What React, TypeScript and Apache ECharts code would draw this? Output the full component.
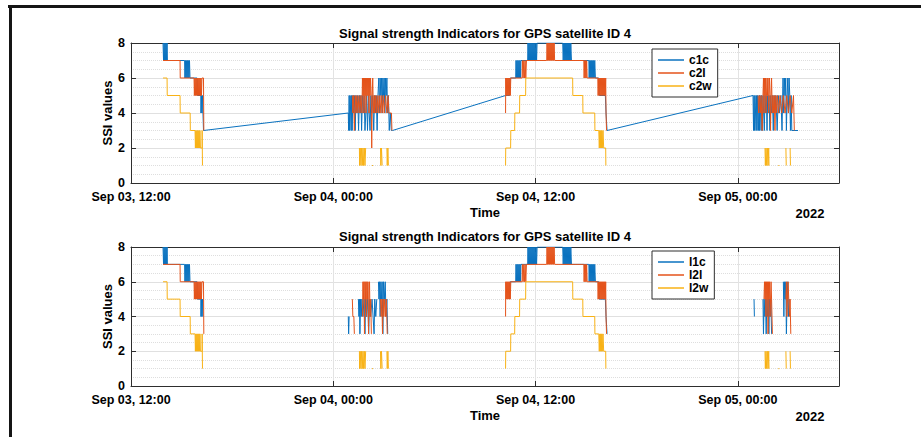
import React, { useEffect, useRef } from 'react';
import * as echarts from 'echarts';

// x values are hours after Sep 03, 12:00 (2022); y values are SSI levels
const TIME_TICKS = ['Sep 03, 12:00', 'Sep 04, 00:00', 'Sep 04, 12:00', 'Sep 05, 00:00'];
const YEAR = '2022';
const TITLE = 'Signal strength Indicators for GPS satellite ID 4';

type Pt = [number, number] | null;

// signal 1 (c1c / l1c), pass 1 and pass 3 look the same in both panels
const S1_P1: Pt[] = [
    [1.90, 8], [1.93, 7], [1.96, 8], [1.99, 7], [2.02, 8], [2.05, 7], [2.08, 8], [2.11, 7], [2.14, 8], [2.16, 7],
    [3.18, 7], [3.20, 6], [3.23, 7], [3.26, 6], [3.29, 7], [3.32, 6], [3.35, 7], [3.38, 6], [3.41, 7], [3.44, 6], [3.47, 7], [3.50, 6],
    [3.92, 6], [3.94, 5], [4.14, 5], [4.15, 4], [4.18, 5], [4.21, 4], [4.24, 5], [4.27, 4]
];
const S1_P3: Pt[] = [
    [22.46, 5], [22.49, 6], [22.82, 6], [22.84, 7], [22.87, 6], [22.90, 7], [22.93, 6], [22.96, 7], [22.99, 6], [23.02, 7], [23.05, 6], [23.08, 7], [23.11, 6], [23.13, 7],
    [23.53, 7], [23.55, 8], [23.58, 7], [23.61, 8], [23.64, 7], [23.67, 8], [23.70, 7], [23.73, 8], [23.76, 7], [23.79, 8], [23.82, 7], [23.85, 8], [23.88, 7], [23.91, 8], [23.94, 7], [23.97, 8], [24.00, 7], [24.03, 8], [24.06, 7], [24.09, 8],
    [25.61, 8], [25.64, 7], [25.67, 8], [25.70, 7], [25.73, 8], [25.76, 7], [25.79, 8], [25.82, 7], [25.85, 8], [25.88, 7], [25.91, 8], [25.94, 7], [25.97, 8], [26.00, 7], [26.03, 8], [26.06, 7], [26.09, 8], [26.13, 7],
    [27.16, 7], [27.18, 6], [27.21, 7], [27.24, 6], [27.27, 7], [27.30, 6], [27.33, 7], [27.36, 6], [27.39, 7], [27.42, 6], [27.45, 7], [27.48, 6], [27.51, 7], [27.55, 6],
    [27.75, 6], [27.78, 5], [28.14, 5], [28.18, 4], [28.24, 3], [28.28, 3]
];
const C1C_P2: Pt[] = [
    [12.89, 4], [12.91, 3], [12.94, 5], [12.97, 3], [13.00, 5], [13.03, 4], [13.06, 3], [13.09, 5], [13.12, 3], [13.16, 5], [13.20, 4], [13.25, 5], [13.30, 3], [13.35, 5], [13.40, 4], [13.45, 5], [13.50, 3], [13.55, 5], [13.60, 4], [13.64, 5], [13.68, 3], [13.73, 5], [13.78, 4], [13.83, 5], [13.88, 3], [13.93, 4], [13.98, 5], [14.03, 3], [14.08, 5], [14.13, 4], [14.18, 3], [14.23, 5], [14.28, 4], [14.33, 5], [14.40, 3], [14.45, 5], [14.50, 4], [14.55, 5], [14.60, 3], [14.65, 5],
    [14.70, 6], [14.74, 4], [14.78, 6], [14.82, 5], [14.86, 6], [14.90, 4], [14.94, 6], [14.98, 5], [15.02, 6], [15.06, 4], [15.10, 6], [15.14, 5], [15.18, 6], [15.22, 4], [15.27, 5], [15.32, 3], [15.38, 4], [15.44, 3], [15.51, 3]
];
const C1C_P4: Pt[] = [
    [36.90, 5], [36.93, 3], [36.96, 5], [36.99, 3], [37.02, 5], [37.05, 4], [37.08, 3], [37.11, 5], [37.14, 3], [37.17, 5], [37.20, 4], [37.23, 3], [37.26, 5], [37.29, 3], [37.32, 5], [37.35, 4], [37.38, 3], [37.41, 5], [37.45, 3], [37.49, 5], [37.53, 4], [37.57, 3], [37.61, 5], [37.65, 4], [37.69, 5], [37.73, 3], [37.77, 5], [37.81, 4], [37.85, 5], [37.90, 3], [37.95, 5], [38.00, 4], [38.05, 5], [38.10, 3], [38.15, 5], [38.20, 4], [38.26, 5], [38.33, 3], [38.40, 5], [38.47, 4], [38.55, 5], [38.62, 3],
    [38.68, 6], [38.72, 4], [38.76, 6], [38.80, 5], [38.84, 6], [38.88, 3], [38.92, 5], [38.96, 6], [39.00, 4], [39.04, 6], [39.08, 5], [39.12, 3], [39.16, 5], [39.20, 3], [39.57, 3]
];
const L1C_P2: Pt[] = [
    [12.89, 4], [12.91, 3], [12.94, 4], null,
    [13.49, 5], [13.52, 4], [13.55, 5], [13.58, 3], [13.62, 5], [13.66, 4], [13.70, 5], [13.76, 4], [13.82, 5], [13.88, 3], [13.92, 5], [13.98, 4], [14.04, 5], [14.10, 3], [14.15, 5], [14.22, 4], [14.30, 5], [14.36, 4], [14.42, 3], [14.46, 5], [14.52, 4], [14.58, 5], null,
    [14.68, 6], [14.71, 5], [14.74, 6], [14.78, 4], [14.82, 6], [14.86, 5], [14.90, 6], [14.94, 3], [14.98, 6], [15.03, 5], [15.08, 6], [15.13, 4], [15.18, 5], [15.23, 3]
];
const L1C_P4: Pt[] = [
    [36.96, 5], [36.98, 4], null,
    [37.49, 5], [37.52, 3], [37.56, 5], [37.60, 4], [37.64, 5], [37.68, 3], [37.72, 5], [37.76, 4], [37.80, 5], [37.84, 3], [37.88, 5], [37.92, 4], [37.96, 5], [38.00, 3], null,
    [38.70, 6], [38.73, 4], [38.76, 6], [38.80, 5], [38.84, 6], [38.88, 3], [38.92, 5], [38.96, 6], [39.00, 4], [39.05, 5]
];

// signal 2 (c2l / l2l)
const S2_P1: Pt[] = [
    [1.90, 7], [2.91, 7], [2.92, 6], [3.74, 6], [3.76, 5], [3.79, 6], [3.82, 5], [3.85, 6], [3.88, 5], [3.91, 6], [3.94, 5], [3.97, 6], [4.00, 5], [4.03, 6], [4.06, 5], [4.09, 6], [4.12, 5], [4.15, 6], [4.18, 5], [4.21, 6], [4.30, 6], [4.32, 3]
];
const S2_P3: Pt[] = [
    [22.22, 4], [22.23, 6], [22.26, 5], [22.29, 6], [22.32, 5], [22.35, 6], [22.38, 5], [22.41, 6], [22.44, 5], [22.47, 6], [22.50, 5], [22.53, 6],
    [23.20, 6], [23.22, 7], [23.26, 6], [23.30, 7], [23.34, 6], [23.38, 7], [23.42, 6], [23.46, 7],
    [24.66, 7], [24.68, 8], [24.71, 7], [24.74, 8], [24.77, 7], [24.80, 8], [24.83, 7], [24.86, 8], [24.89, 7], [24.92, 8], [24.95, 7], [24.98, 8], [25.01, 7], [25.04, 8], [25.07, 7], [25.10, 8], [25.13, 7],
    [26.86, 7], [26.88, 6], [26.91, 7], [26.94, 6], [26.97, 7], [27.00, 6], [27.03, 7], [27.06, 6],
    [27.69, 6], [27.71, 5], [27.74, 6], [27.77, 5], [27.80, 6], [27.83, 5], [27.86, 6], [27.89, 5], [27.92, 6], [27.95, 5], [27.98, 6], [28.01, 5], [28.04, 6], [28.07, 5], [28.10, 6], [28.13, 5], [28.16, 6], [28.18, 4], [28.21, 3]
];
const C2L_P2: Pt[] = [
    [13.13, 5], [13.16, 4], [13.20, 5], [13.25, 3], [13.30, 5], [13.35, 4], [13.40, 5], [13.46, 4], [13.52, 5], [13.58, 4], [13.64, 5], [13.70, 4], [13.73, 6], [13.76, 5], [13.79, 6], [13.82, 4], [13.85, 6], [13.88, 5], [13.91, 6], [13.94, 4], [13.97, 6], [14.00, 5], [14.03, 6], [14.06, 5], [14.09, 6], [14.12, 4], [14.15, 6], [14.18, 5], [14.21, 6], [14.25, 5], [14.28, 2], [14.31, 5], [14.34, 6], [14.38, 4],
    [14.42, 5], [14.46, 4], [14.50, 5], [14.55, 4], [14.60, 5], [14.66, 4], [14.72, 5], [14.78, 4], [14.84, 5], [14.90, 4], [14.96, 5], [15.02, 4], [15.10, 5], [15.18, 4], [15.25, 5], [15.30, 4], [15.45, 4], [15.48, 3]
];
const C2L_P4: Pt[] = [
    [37.20, 5], [37.23, 4], [37.28, 5], [37.33, 4], [37.38, 5], [37.44, 3], [37.49, 5], [37.52, 6], [37.55, 4], [37.58, 6], [37.61, 5], [37.64, 6], [37.67, 4], [37.70, 5], [37.73, 6], [37.76, 5], [37.79, 6], [37.82, 4], [37.85, 5], [37.88, 6], [37.91, 5], [37.94, 3], [37.97, 5], [38.00, 6], [38.04, 4],
    [38.08, 5], [38.12, 4], [38.16, 5], [38.20, 3], [38.25, 5], [38.30, 4], [38.35, 5], [38.42, 4], [38.50, 5], [38.60, 4], [38.70, 5], [38.80, 4], [38.90, 5], [39.00, 4], [39.10, 5], [39.20, 4], [39.30, 5], [39.35, 3]
];
const L2L_P2: Pt[] = [
    [13.13, 5], [13.16, 4], [13.22, 4], [13.25, 3], null,
    [13.73, 4], [13.76, 6], [13.79, 5], [13.82, 6], [13.85, 3], [13.88, 6], [13.91, 5], [13.94, 6], [13.97, 4], [14.00, 6], [14.03, 5], [14.06, 6], [14.09, 3], [14.12, 5], [14.15, 6], [14.18, 4], [14.22, 5], [14.26, 3], null,
    [14.80, 5], [14.84, 4], [14.88, 5], [14.92, 3], [14.96, 5], [15.00, 4], [15.05, 5], [15.10, 4], [15.15, 5], [15.20, 3]
];
const L2L_P4: Pt[] = [
    [37.55, 5], [37.58, 6], [37.61, 5], [37.64, 6], [37.67, 4], [37.70, 6], [37.73, 5], [37.76, 6], [37.79, 3], [37.82, 6], [37.85, 5], [37.88, 6], [37.91, 4], [37.94, 5], [37.97, 6], [38.00, 5], [38.05, 3], null,
    [38.85, 5], [38.88, 6], [38.91, 4], [38.94, 5], [38.98, 6], [39.02, 5], [39.06, 4], [39.10, 5], [39.14, 3]
];

// signal w (c2w / l2w), drawn the same in both panels
const W_P1: Pt[] = [
    [1.90, 6], [2.14, 6], [2.15, 5], [2.91, 5], [2.92, 4], [3.51, 4], [3.52, 3], [3.80, 3], [3.82, 2], [3.85, 3], [3.88, 2], [3.91, 3], [3.94, 2], [3.97, 3], [4.00, 2], [4.03, 3], [4.06, 2], [4.09, 3], [4.12, 2], [4.22, 2], [4.22, 3], [4.24, 1]
];
const W_P2: Pt[] = [
    [13.55, 2], [13.56, 1], [13.60, 2], [13.64, 1], [13.68, 2], [13.72, 1], [13.76, 2], [13.80, 1], [13.84, 2], [13.88, 1], [13.92, 2], null,
    [14.30, 1], [14.36, 1], null,
    [14.80, 2], [14.82, 1], [14.86, 2], [14.90, 1], null,
    [15.18, 2], [15.20, 1], [15.24, 2], [15.27, 1]
];
const W_P3: Pt[] = [
    [22.22, 1], [22.23, 2], [22.52, 2], [22.53, 3], [22.76, 3], [22.77, 4], [23.05, 4], [23.06, 5], [23.41, 5], [23.42, 6],
    [26.20, 6], [26.21, 5], [26.80, 5], [26.81, 4], [27.51, 4], [27.52, 3], [27.75, 3], [27.78, 2], [27.81, 3], [27.84, 2], [27.87, 3], [27.90, 2], [27.93, 3], [27.96, 2], [28.00, 3], [28.04, 2], [28.16, 2], [28.17, 1]
];
const W_P4: Pt[] = [
    [37.61, 2], [37.63, 1], [37.67, 2], [37.71, 1], [37.75, 2], [37.79, 1], [37.83, 2], [37.85, 1], null,
    [38.40, 1], [38.46, 1], null,
    [38.85, 2], [38.87, 1], null,
    [39.10, 2], [39.12, 1]
];

const BLUE = '#0a72bf';
const ORANGE = '#e4531b';
const YELLOW = '#f8b216';
const AXIS = '#2e2e2e';
const FONT = '"Liberation Sans", Arial, sans-serif';

const joined = (...parts: Pt[][]) => parts.flat();
const gapped = (...parts: Pt[][]) => parts.flatMap((p, i) => (i ? [null, ...p] : p));
const toData = (pts: Pt[]) => pts.map(p => (p ? p : ['-', '-']));

const App: React.FC = () => {
    const chartRef = useRef<HTMLDivElement>(null);

    useEffect(() => {
        if (!chartRef.current) return;
        const myChart = echarts.init(chartRef.current, null, { renderer: 'svg' });

        const panels = [
            {
                names: ['c1c', 'c2l', 'c2w'],
                lines: [
                    joined(S1_P1, [[4.30, 3]], C1C_P2, [[22.22, 5]], S1_P3, C1C_P4),
                    gapped(S2_P1, C2L_P2, S2_P3, C2L_P4),
                    gapped(W_P1, W_P2, W_P3, W_P4)
                ],
                top: 43, height: 140, legendTop: 49, titleY: 33
            },
            {
                names: ['l1c', 'l2l', 'l2w'],
                lines: [
                    gapped(S1_P1, L1C_P2, S1_P3, L1C_P4),
                    gapped(S2_P1, L2L_P2, S2_P3, L2L_P4),
                    gapped(W_P1, W_P2, W_P3, W_P4)
                ],
                top: 247, height: 139, legendTop: 251, titleY: 236
            }
        ];
        const colors = [BLUE, ORANGE, YELLOW];

        const boldText = (size: number) => ({ fontFamily: FONT, fontWeight: 'bold' as const, fontSize: size, color: '#000' });

        const xAxis: any[] = [];
        const yAxis: any[] = [];
        panels.forEach((p, g) => {
            xAxis.push({
                type: 'value', gridIndex: g, min: 0, max: 42, interval: 12, position: 'bottom',
                axisLine: { show: true, onZero: false, lineStyle: { color: AXIS } },
                axisTick: { inside: true, length: 5, lineStyle: { color: AXIS } },
                axisLabel: {
                    ...boldText(12.5), margin: 7,
                    formatter: (v: number) => (v % 12 === 0 ? TIME_TICKS[v / 12] || '' : '')
                },
                splitLine: { show: true, lineStyle: { color: '#e3e3e3' } },
                name: 'Time', nameLocation: 'middle', nameGap: 23, nameTextStyle: boldText(13)
            });
            xAxis.push({
                type: 'value', gridIndex: g, min: 0, max: 42, interval: 12, position: 'top',
                axisLine: { show: true, onZero: false, lineStyle: { color: AXIS } },
                axisTick: { inside: true, length: 5, lineStyle: { color: AXIS } },
                axisLabel: { show: false }, splitLine: { show: false }
            });
            yAxis.push({
                type: 'value', gridIndex: g, min: 0, max: 8, interval: 2, position: 'left',
                axisLine: { show: true, onZero: false, lineStyle: { color: AXIS } },
                axisTick: { inside: true, length: 5, lineStyle: { color: AXIS } },
                axisLabel: { ...boldText(12.5), margin: 6 },
                splitLine: { show: true, lineStyle: { color: '#e0e0e0' } },
                minorTick: { show: false, splitNumber: 4 },
                minorSplitLine: { show: true, lineStyle: { color: '#dedede', type: 'dotted' } },
                name: 'SSI values', nameLocation: 'middle', nameGap: 17, nameMoveOverlap: false,
                nameTextStyle: boldText(13)
            });
            yAxis.push({
                type: 'value', gridIndex: g, min: 0, max: 8, interval: 2, position: 'right',
                axisLine: { show: true, onZero: false, lineStyle: { color: AXIS } },
                axisTick: { inside: true, length: 5, lineStyle: { color: AXIS } },
                axisLabel: { show: false }, splitLine: { show: false }
            });
        });

        const option: echarts.EChartsOption = {
            animation: false,
            backgroundColor: '#fff',
            grid: panels.map(p => ({ left: 131, top: p.top, width: 708, height: p.height })),
            xAxis,
            yAxis,
            legend: panels.map(p => ({
                data: p.names,
                left: 652, top: p.legendTop, orient: 'vertical',
                icon: 'rect', itemWidth: 26, itemHeight: 1.5, itemGap: 1,
                padding: [5, 6, 5, 6],
                borderColor: AXIS, borderWidth: 1, backgroundColor: '#fff',
                textStyle: boldText(12),
                selectedMode: false
            })),
            series: panels.flatMap((p, g) => p.lines.map((pts, i) => ({
                name: p.names[i],
                type: 'line' as const,
                xAxisIndex: g * 2,
                yAxisIndex: g * 2,
                data: toData(pts),
                symbol: 'none',
                connectNulls: false,
                silent: true,
                lineStyle: { width: 1, color: colors[i] },
                itemStyle: { color: colors[i] }
            }))),
            graphic: [
                { type: 'rect', shape: { x: 8, y: 5, width: 913, height: 3 }, style: { fill: '#151515' }, silent: true },
                { type: 'rect', shape: { x: 9, y: 5, width: 3, height: 432 }, style: { fill: '#151515' }, silent: true },
                ...panels.flatMap(p => [
                    {
                        type: 'text', x: 485, y: p.titleY,
                        style: { text: TITLE, font: `bold 13px ${FONT}`, fill: '#000', textAlign: 'center', textVerticalAlign: 'middle' }
                    },
                    {
                        type: 'text', x: 810, y: p.top + p.height + 30,
                        style: { text: YEAR, font: `bold 13px ${FONT}`, fill: '#000', textAlign: 'center', textVerticalAlign: 'middle' }
                    }
                ])
            ] as any
        };

        myChart.setOption(option);
        return () => myChart.dispose();
    }, []);

    return <div ref={chartRef} style={{ position: 'fixed', left: 0, top: 0, width: 921, height: 437 }} />;
};

export default App;
